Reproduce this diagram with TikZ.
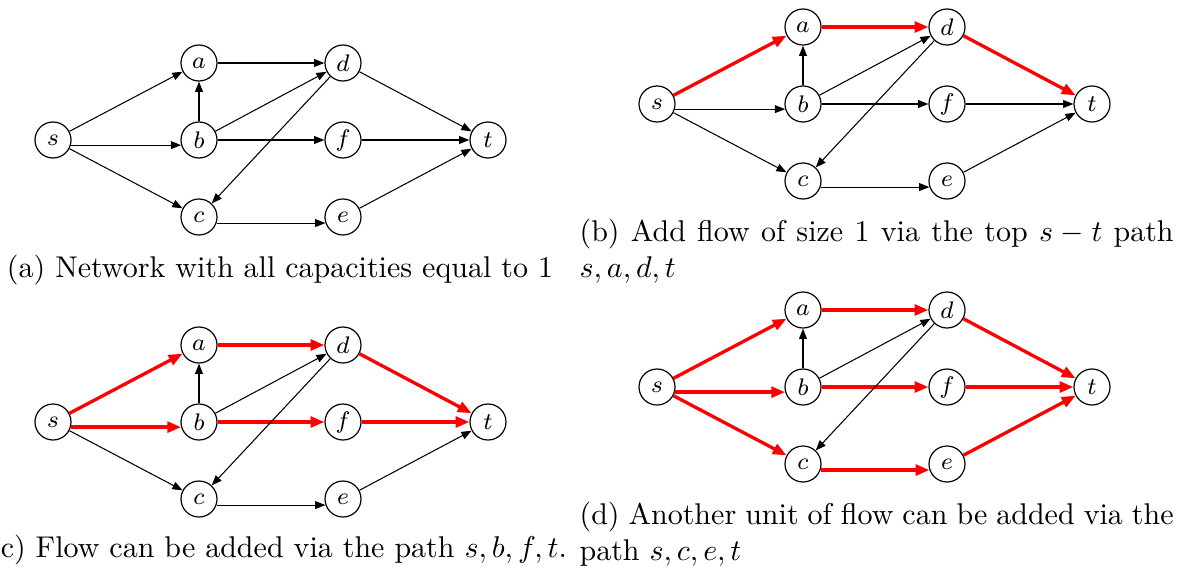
\documentclass[tikz,border=0pt]{standalone}
\usepackage{amsmath}
\usepackage{tikz}
\usetikzlibrary{arrows.meta}
\definecolor{flowred}{RGB}{255,0,0}
\tikzset{
  vertex/.style={circle, draw=black, line width=0.4pt, minimum size=12pt,
    inner sep=0pt, font=\footnotesize},
  arrow/.style={-{Triangle[length=3.4pt, width=2.6pt]}, line width=0.35pt, color=black},
  flow/.style={-{Triangle[length=4.6pt, width=3.6pt]}, line width=1.1pt, color=flowred},
  capline/.style={anchor=base, inner sep=0pt},
  capbox/.style={anchor=base west, inner sep=0pt, text width=198pt, align=justify}
}
% the eight vertices of the network, s at the origin
\newcommand{\netnodes}{%
  \node[vertex] (s) at (0,0) {$s$};
  \node[vertex] (a) at (146,-77) {$a$};
  \node[vertex] (b) at (146,0) {$b$};
  \node[vertex] (c) at (146,77) {$c$};
  \node[vertex] (d) at (290,-77) {$d$};
  \node[vertex] (f) at (290,0) {$f$};
  \node[vertex] (e) at (290,77) {$e$};
  \node[vertex] (t) at (435,0) {$t$};
}

\begin{document}
\begin{tikzpicture}[x=0.3333pt, y=-0.3333pt]
  \useasboundingbox (0,0) rectangle (1184,575);

  % (a) the network, no flow yet
  \begin{scope}[shift={(53,140)}, name prefix=A-]
    \netnodes
    \foreach \u/\v/\k in {s/a/arrow, s.-16/b.196/arrow, s/c/arrow, b/a/arrow,
        a/d/arrow, b/d/arrow, b/f/arrow, d/c/arrow, c.-19/e.199/arrow,
        d/t/arrow, f/t/arrow, e/t/arrow}
      \draw[\k] (\u) -- (\v);
  \end{scope}
  \node[capline] (capA) at (280,277) {(a) Network with all capacities equal to 1};

  % (b) flow along s,a,d,t
  \begin{scope}[shift={(657,104)}, name prefix=B-]
    \netnodes
    \foreach \u/\v/\k in {s/a/flow, s.-16/b.196/arrow, s/c/arrow, b/a/arrow,
        a/d/flow, b/d/arrow, b/f/arrow, d/c/arrow, c.-19/e.199/arrow,
        d/t/flow, f/t/arrow, e/t/arrow}
      \draw[\k] (\u) -- (\v);
  \end{scope}
  \node[capbox] (capB) at (579,241) {(b) Add flow of size 1 via the top $s-t$ path $s,a,d,t$};

  % (c) flow along s,b,f,t added
  \begin{scope}[shift={(53,422)}, name prefix=C-]
    \netnodes
    \foreach \u/\v/\k in {s/a/flow, s.-16/b.196/flow, s/c/arrow, b/a/arrow,
        a/d/flow, b/d/arrow, b/f/flow, d/c/arrow, c.-19/e.199/arrow,
        d/t/flow, f/t/flow, e/t/arrow}
      \draw[\k] (\u) -- (\v);
  \end{scope}
  \node[capline] (capC) at (278,557) {(c) Flow can be added via the path $s,b,f,t$.};

  % (d) flow along s,c,e,t added
  \begin{scope}[shift={(657,387)}, name prefix=D-]
    \netnodes
    \foreach \u/\v/\k in {s/a/flow, s.-16/b.196/flow, s/c/flow, b/a/arrow,
        a/d/flow, b/d/arrow, b/f/flow, d/c/arrow, c.-19/e.199/flow,
        d/t/flow, f/t/flow, e/t/flow}
      \draw[\k] (\u) -- (\v);
  \end{scope}
  \node[capbox] (capD) at (579,524) {(d) Another unit of flow can be added via the path $s,c,e,t$};
\end{tikzpicture}
\end{document}
